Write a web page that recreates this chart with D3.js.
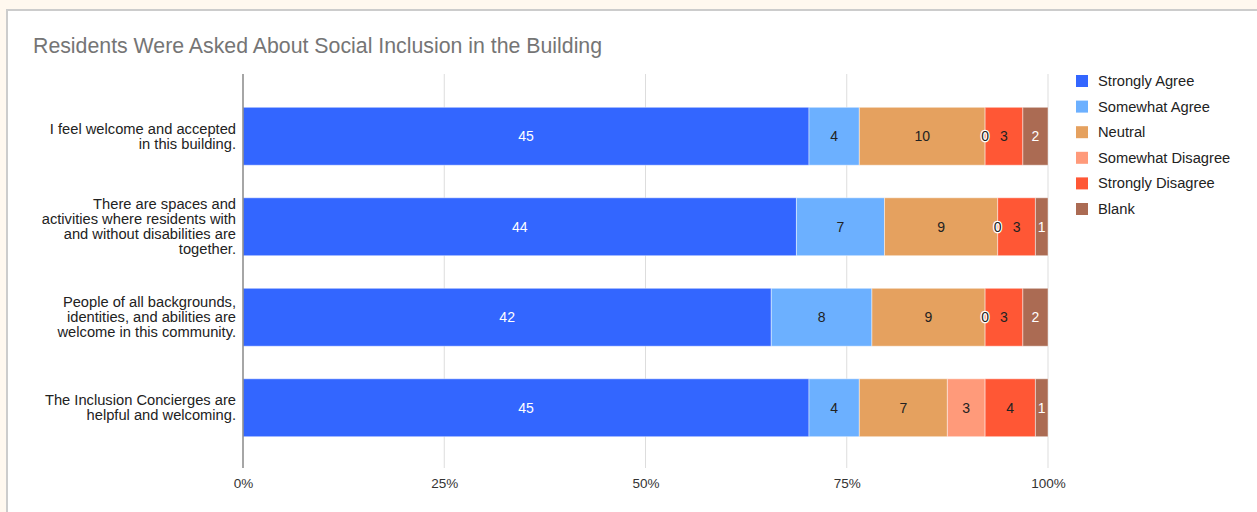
<!DOCTYPE html>
<html>
<head>
<meta charset="utf-8">
<script src="https://cdn.jsdelivr.net/npm/d3@7"></script>
<style>
  html, body { margin: 0; padding: 0; background: #fff8ef; }
  svg { display: block; }
</style>
</head>
<body>
<svg id="chart" width="1257" height="512"></svg>
<script>
const title = "Residents Were Asked About Social Inclusion in the Building";
const categories = [
  "I feel welcome and accepted in this building.",
  "There are spaces and activities where residents with and without disabilities are together.",
  "People of all backgrounds, identities, and abilities are welcome in this community.",
  "The Inclusion Concierges are helpful and welcoming."
];
const categoryLines = [
  ["I feel welcome and accepted", "in this building."],
  ["There are spaces and", "activities where residents with", "and without disabilities are", "together."],
  ["People of all backgrounds,", "identities, and abilities are", "welcome in this community."],
  ["The Inclusion Concierges are", "helpful and welcoming."]
];
const seriesNames = ["Strongly Agree", "Somewhat Agree", "Neutral", "Somewhat Disagree", "Strongly Disagree", "Blank"];
const stronglyAgree    = [45, 44, 42, 45];
const somewhatAgree    = [4, 7, 8, 4];
const neutral          = [10, 9, 9, 7];
const somewhatDisagree = [0, 0, 0, 3];
const stronglyDisagree = [3, 3, 3, 4];
const blank            = [2, 1, 2, 1];
const tickValues = [0, 0.25, 0.5, 0.75, 1];
const tickLabels = ["0%", "25%", "50%", "75%", "100%"];

const colors = ["#3366ff", "#6cb0ff", "#e5a15f", "#ff9a7a", "#ff5735", "#ab6b53"];
const labelColors = ["#ffffff", "#222222", "#222222", "#222222", "#222222", "#ffffff"];

const seriesValues = [stronglyAgree, somewhatAgree, neutral, somewhatDisagree, stronglyDisagree, blank];
const rows = categories.map((c, i) => {
  const o = { category: c };
  seriesNames.forEach((s, j) => o[s] = seriesValues[j][i]);
  return o;
});

const svg = d3.select("#chart");
const font = "'Liberation Sans', Arial, sans-serif";

// card
svg.append("rect").attr("x", 7).attr("y", 10).attr("width", 1262).attr("height", 520)
  .attr("fill", "#ffffff").attr("stroke", "#cccccc").attr("stroke-width", 2);

svg.append("text").attr("x", 33).attr("y", 53).text(title)
  .attr("font-family", font).attr("font-size", 21.3).attr("fill", "#757575");

const x = d3.scaleLinear().domain([0, 1]).range([243, 1048]);
const y = d3.scaleBand().domain(categories).range([91, 453]).paddingInner(0.36).paddingOuter(0.18);

// gridlines
svg.append("g").selectAll("line").data(tickValues.slice(1)).join("line")
  .attr("x1", d => x(d)).attr("x2", d => x(d)).attr("y1", 74).attr("y2", 468)
  .attr("stroke", "#dddddd").attr("stroke-width", 1);

const stack = d3.stack().keys(seriesNames).offset(d3.stackOffsetExpand);
const stacked = stack(rows);

const g = svg.append("g");
stacked.forEach((layer, j) => {
  g.append("g").selectAll("rect").data(layer).join("rect")
    .attr("x", d => x(d[0])).attr("width", d => x(d[1]) - x(d[0]))
    .attr("y", d => y(d.data.category)).attr("height", y.bandwidth())
    .attr("fill", colors[j]).attr("stroke", "rgba(255,255,255,0.45)").attr("stroke-width", 1);
});
stacked.forEach((layer, j) => {
  const lg = g.append("g");
  layer.forEach((d, i) => {
    const v = seriesValues[j][i];
    const cx = (x(d[0]) + x(d[1])) / 2;
    const cy = y(d.data.category) + y.bandwidth() / 2;
    const t = lg.append("text").attr("x", cx).attr("y", cy + 5)
      .attr("text-anchor", "middle").attr("font-family", font).attr("font-size", 14)
      .attr("fill", labelColors[j]).text(v);
    if (v === 0) {
      t.attr("stroke", "#ffffff").attr("stroke-width", 2.5).attr("paint-order", "stroke")
        .attr("stroke-linejoin", "round");
    }
  });
});

// zero axis line
svg.append("line").attr("x1", x(0)).attr("x2", x(0)).attr("y1", 74).attr("y2", 468)
  .attr("stroke", "#888888").attr("stroke-width", 1.5);

// x tick labels
const xAxis = d3.axisBottom(x).tickValues(tickValues).tickFormat((d, i) => tickLabels[i]).tickSize(0).tickPadding(0);
const ax = svg.append("g").attr("transform", "translate(0,478)").call(xAxis);
ax.select(".domain").remove();
ax.selectAll("text").attr("font-family", font).attr("font-size", 13.5).attr("fill", "#333333");

// y labels
const yl = svg.append("g");
categories.forEach((c, i) => {
  const lines = categoryLines[i];
  const cy = y(c) + y.bandwidth() / 2;
  const lh = 15;
  const start = cy - (lines.length - 1) * lh / 2 + 5;
  const t = yl.append("text").attr("text-anchor", "end").attr("font-family", font)
    .attr("font-size", 14.7).attr("fill", "#222222");
  lines.forEach((ln, k) => t.append("tspan").attr("x", 236).attr("y", start + k * lh).text(ln));
});

// legend
const leg = svg.append("g");
seriesNames.forEach((s, i) => {
  const ly = 81 + i * 25.6;
  leg.append("rect").attr("x", 1076).attr("y", ly - 6).attr("width", 12).attr("height", 12).attr("fill", colors[i]);
  leg.append("text").attr("x", 1098).attr("y", ly + 5).text(s)
    .attr("font-family", font).attr("font-size", 14.7).attr("fill", "#222222");
});
</script>
</body>
</html>
